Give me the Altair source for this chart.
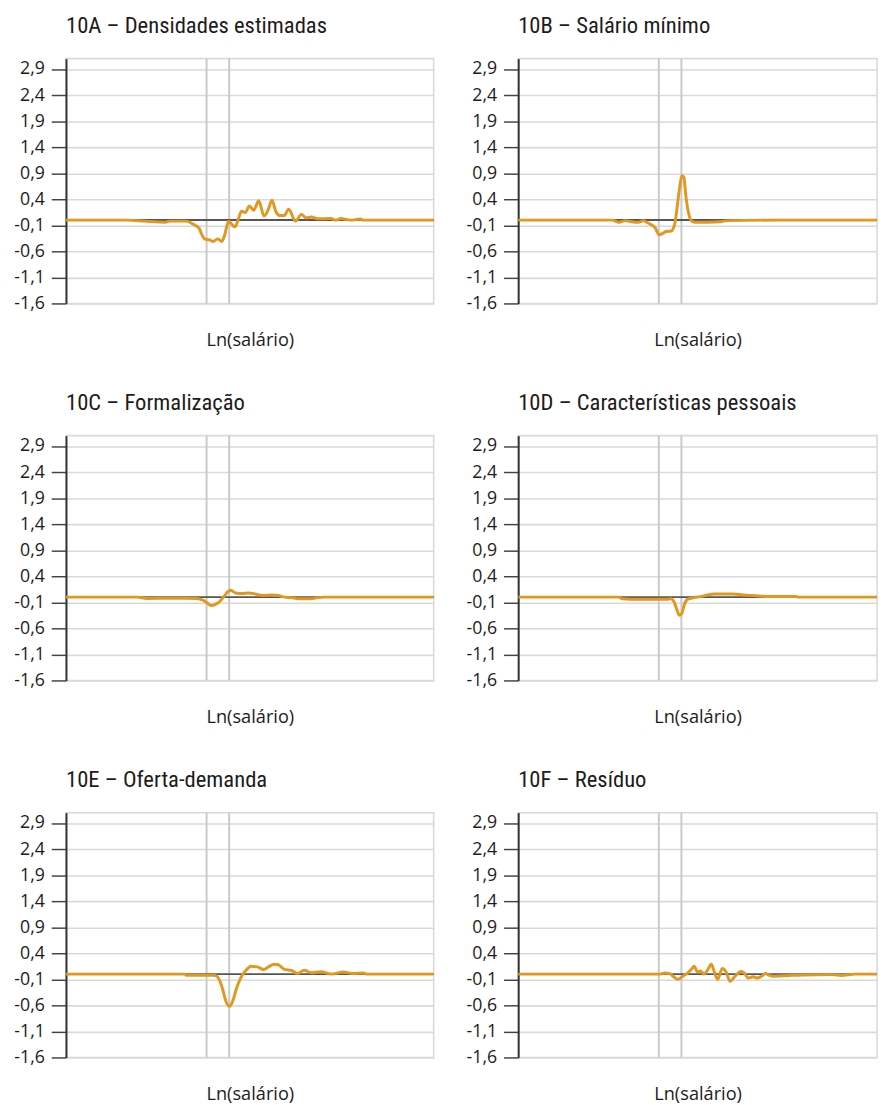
import altair as alt
import pandas as pd

# ---------------- data ----------------
TITLES = [
    "10A – Densidades estimadas",
    "10B – Salário mínimo",
    "10C – Formalização",
    "10D – Características pessoais",
    "10E – Oferta-demanda",
    "10F – Resíduo",
]

A_x = [2.0, 3.25, 3.6, 4.02, 4.1, 4.45, 4.59, 4.71, 4.75, 4.82, 4.92, 4.99, 5.09, 5.17, 5.22,
       5.31, 5.37, 5.44, 5.51, 5.57, 5.65, 5.73, 5.82, 5.92, 6.03, 6.11, 6.19, 6.27, 6.35,
       6.44, 6.53, 6.67, 6.79, 6.89, 6.99, 7.12, 7.39, 7.49, 7.59, 7.79, 7.99, 8.05, 9.48]
A_y = [0, 0, -0.02, -0.04, -0.02, -0.02, -0.08, -0.16, -0.25, -0.36, -0.38, -0.41, -0.36, -0.41, -0.31,
       -0.02, -0.08, -0.13, 0.03, 0.17, 0.145, 0.27, 0.19, 0.37, 0.08, 0.19, 0.38, 0.16, 0.09,
       0.09, 0.21, -0.02, 0.11, 0.04, 0.06, 0.025, 0.03, 0, 0.03, 0, 0.02, 0, 0]

B_x = [2.0, 3.91, 4.05, 4.18, 4.31, 4.45, 4.55, 4.61, 4.71, 4.78, 4.87, 4.95, 5.01, 5.11, 5.18,
       5.23, 5.28, 5.33, 5.37, 5.41, 5.46, 5.53, 5.61, 6.11, 6.25, 7.31, 9.48]
B_y = [0, 0, -0.04, -0.01, -0.03, -0.04, -0.01, -0.04, -0.09, -0.14, -0.28, -0.25, -0.22, -0.21, -0.09,
       0.22, 0.60, 0.85, 0.82, 0.47, 0.16, -0.02, -0.04, -0.03, -0.01, 0, 0]

C_x = [2.0, 3.45, 3.65, 4.05, 4.45, 4.65, 4.79, 4.87, 4.95, 5.04, 5.12, 5.22, 5.29, 5.35, 5.45,
       5.59, 5.72, 5.85, 5.99, 6.19, 6.32, 6.45, 6.59, 6.72, 6.99, 7.12, 7.25, 9.48]
C_y = [0, 0, -0.025, -0.02, -0.02, -0.025, -0.06, -0.11, -0.16, -0.14, -0.09, 0.02, 0.10, 0.13, 0.08,
       0.07, 0.08, 0.06, 0.03, 0.04, 0.03, 0, -0.01, -0.03, -0.03, -0.01, 0, 0]

D_x = [2.0, 4.05, 4.11, 4.45, 5.05, 5.11, 5.18, 5.23, 5.28, 5.33, 5.38, 5.45, 5.58, 5.71, 5.85,
       5.98, 6.18, 6.38, 6.58, 6.78, 7.11, 7.65, 7.7, 9.48]
D_y = [0, 0, -0.03, -0.04, -0.04, -0.03, -0.11, -0.25, -0.35, -0.31, -0.14, -0.04, -0.01, 0.01, 0.04,
       0.06, 0.06, 0.06, 0.04, 0.03, 0.01, 0.01, 0, 0]

E_x = [2.0, 4.42, 4.45, 4.99, 5.05, 5.12, 5.19, 5.25, 5.33, 5.39, 5.47, 5.55, 5.65, 5.77, 5.89,
       6.02, 6.12, 6.24, 6.32, 6.44, 6.59, 6.71, 6.85, 6.99, 7.19, 7.39, 7.65, 7.85, 8.05, 8.12, 9.48]
E_y = [0, 0, -0.02, -0.02, -0.03, -0.11, -0.30, -0.51, -0.62, -0.52, -0.27, -0.08, 0.06, 0.15, 0.14,
       0.09, 0.14, 0.19, 0.18, 0.09, 0.07, 0.01, 0.075, 0.025, 0.045, 0, 0.04, 0.01, 0.02, 0, 0]

F_x = [2.0, 4.88, 4.98, 5.08, 5.15, 5.25, 5.35, 5.45, 5.53, 5.58, 5.65, 5.71, 5.78, 5.86, 5.93,
       5.99, 6.06, 6.15, 6.23, 6.31, 6.41, 6.53, 6.61, 6.68, 6.78, 6.86, 6.95, 7.03, 7.11, 7.21,
       7.51, 7.78, 8.38, 8.58, 8.71, 8.85, 9.48]
F_y = [0, 0, 0.02, 0.01, -0.04, -0.10, -0.04, 0.025, 0.10, 0.15, 0.04, 0.06, 0, 0.09, 0.19,
       0.04, -0.10, 0.11, 0.04, -0.14, -0.04, 0.05, 0.01, -0.075, -0.05, -0.075, -0.04, 0.01, -0.025, -0.04,
       -0.025, -0.015, -0.01, -0.025, -0.015, 0, 0]

SERIES_X = [A_x, B_x, C_x, D_x, E_x, F_x]
SERIES_Y = [A_y, B_y, C_y, D_y, E_y, F_y]

VLINES = [4.86, 5.32]
Y_TICKS = [-1.6, -1.1, -0.6, -0.1, 0.4, 0.9, 1.4, 1.9, 2.4, 2.9]
Y_DOMAIN = [-1.6, 3.1]
X_MIN = 2.0
X_MAX_LEFT = 9.48
X_MAX_RIGHT = 9.3

# ---------------- style ----------------
ORANGE = "#E2971F"
GRID = "#d9d9d9"
TEXT = "#1e1b1c"
TICK_FONT = "Open Sans"
TITLE_FONT = "Liberation Sans Narrow, Roboto Condensed, Roboto"
PLOT_H = 249
W_LEFT = 374
W_RIGHT = 365


def panel(title, xs, ys, width, xmax):
    df = pd.DataFrame({"x": xs, "y": ys})
    xscale = alt.Scale(domain=[X_MIN, xmax], nice=False, zero=False)
    yscale = alt.Scale(domain=Y_DOMAIN, nice=False, zero=False)
    xaxis = alt.Axis(
        title="Ln(salário)", labels=False, ticks=False, domain=False, grid=False,
        titleFont=TICK_FONT, titleFontSize=18.5, titleFontWeight="normal",
        titleColor=TEXT, titlePadding=28,
    )
    yaxis = alt.Axis(
        title=None, values=Y_TICKS,
        labelExpr="(datum.value < 0 ? '-' : '') + replace(format(abs(datum.value), '.1f'), '.', ',')",
        labelFont=TICK_FONT, labelFontSize=18, labelColor=TEXT, labelPadding=7,
        tickSize=15, tickColor="#444444", tickWidth=1.5,
        domainColor="#333333", domainWidth=2,
        grid=True, gridColor=GRID, gridWidth=1.6,
    )
    vl = alt.Chart(pd.DataFrame({"x": VLINES})).mark_rule(
        color="#c9c9c9", strokeWidth=2
    ).encode(x=alt.X("x:Q", scale=xscale, axis=xaxis))
    zl = alt.Chart(pd.DataFrame({"y": [0.0]})).mark_rule(
        color="#555555", strokeWidth=2
    ).encode(y=alt.Y("y:Q", scale=yscale, axis=yaxis))
    ln = alt.Chart(df).mark_line(
        color=ORANGE, strokeWidth=3, interpolate="monotone", clip=True
    ).encode(
        x=alt.X("x:Q", scale=xscale, axis=xaxis),
        y=alt.Y("y:Q", scale=yscale, axis=yaxis),
    )
    return alt.layer(vl, zl, ln).properties(
        width=width, height=PLOT_H,
        title=alt.TitleParams(
            title, anchor="start", frame="group", font=TITLE_FONT, fontSize=23,
            fontWeight="normal", color=TEXT, offset=20,
        ),
    )


panels = []
for i, t in enumerate(TITLES):
    left = i % 2 == 0
    panels.append(panel(t, SERIES_X[i], SERIES_Y[i],
                        W_LEFT if left else W_RIGHT,
                        X_MAX_LEFT if left else X_MAX_RIGHT))

rows = [alt.hconcat(panels[k], panels[k + 1], spacing=30) for k in (0, 2, 4)]
chart = alt.vconcat(*rows, spacing=41.5).properties(
    padding={"left": 5, "top": -3, "right": 0, "bottom": 0}
).configure_view(stroke=GRID, strokeWidth=1.6)

chart.save("out.html", embed_options={"renderer": "svg", "actions": False})
